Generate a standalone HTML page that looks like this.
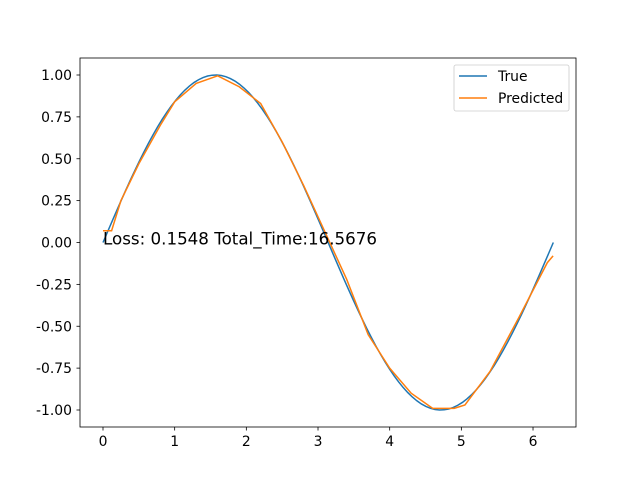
<!DOCTYPE html>
<html><head><meta charset="utf-8"><style>
body{margin:0;background:#fff}
svg text{font-family:"DejaVu Sans","Liberation Sans",sans-serif;fill:#000}
</style></head><body>
<svg id="chart" width="640" height="480">
<rect width="640" height="480" fill="#fff"/>
<g id="plot"></g>
</svg>
<script>
const xTicks=[0,1,2,3,4,5,6];
const yTicks=[1.00,0.75,0.50,0.25,0.00,-0.25,-0.50,-0.75,-1.00];
const predX=[0,0.12,0.25,0.5,0.8,1.0,1.3,1.6,1.9,2.2,2.5,2.8,3.1,3.4,3.7,4.0,4.3,4.6,4.9,5.05,5.4,5.8,6.2,6.28];
const predY=[0.07,0.07,0.25,0.47,0.70,0.84,0.95,0.995,0.93,0.83,0.60,0.34,0.06,-0.22,-0.55,-0.75,-0.90,-0.99,-0.99,-0.97,-0.77,-0.45,-0.12,-0.08];
const trueN=100;
const annot="Loss: 0.1548 Total_Time:16.5676";
const sx=v=>103+v*71.67, sy=v=>242.5-v*167.5;
const NS="http://www.w3.org/2000/svg";
const g=document.getElementById('plot');
function el(t,a,p){const e=document.createElementNS(NS,t);for(const k in a)e.setAttribute(k,a[k]);(p||g).appendChild(e);return e;}
let f=el('rect',{x:80,y:58,width:496,height:369,fill:'none',stroke:'#000','stroke-width':0.8});


xTicks.forEach(v=>{const x=sx(v);
 let l=el('line',{x1:x,x2:x,y1:427,y2:430.5,stroke:'#000','stroke-width':0.8});
 
 
 let t=el('text',{x:x,y:446,'text-anchor':'middle','font-size':13.9});t.textContent=v;
 
 });
yTicks.forEach(v=>{const y=sy(v);
 let l=el('line',{x1:76.5,x2:80,y1:y,y2:y,stroke:'#000','stroke-width':0.8});
 
 
 let t=el('text',{x:72,y:y+5,'text-anchor':'end','font-size':13.9});t.textContent=v.toFixed(2);
 
 });
let pts=[];for(let i=0;i<trueN;i++){const x=i*2*Math.PI/(trueN-1);pts.push(sx(x)+','+sy(Math.sin(x)));}
let tl=el('polyline',{points:pts.join(' '),fill:'none',stroke:'#1f77b4','stroke-width':1.5});


let pl=el('polyline',{points:predX.map((x,i)=>sx(x)+','+sy(predY[i])).join(' '),fill:'none',stroke:'#ff7f0e','stroke-width':1.5});


let an=el('text',{x:sx(0),y:sy(0)+2,'font-size':16.7});an.textContent=annot;


let lg=el('g',{});


el('rect',{x:454,y:65,width:115,height:46,rx:2,fill:'#fff','fill-opacity':0.8,stroke:'#ccc','stroke-width':0.8},lg);
[['True','#1f77b4',76],['Predicted','#ff7f0e',98]].forEach(([n,c,y])=>{
 let e=el('g',{},lg);
 
 
 el('line',{x1:459,x2:487,y1:y,y2:y,stroke:c,'stroke-width':1.5},e);
 let t=el('text',{x:498,y:y+5,'font-size':13.9},e);t.textContent=n;});
</script>
</body></html>
